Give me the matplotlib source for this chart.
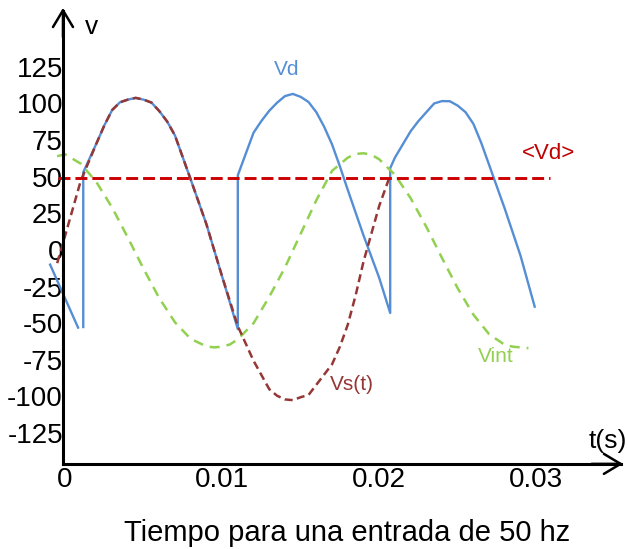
import matplotlib.pyplot as plt

plt.rcParams['font.family'] = ['Liberation Sans', 'DejaVu Sans']
plt.rcParams['axes.unicode_minus'] = False

# Vs(t): tension de entrada
t_vs = [-0.0005, 0.000, 0.001, 0.002, 0.0025, 0.003, 0.0035, 0.004, 0.0045, 0.005,
        0.0055, 0.006, 0.0065, 0.007, 0.008, 0.009, 0.010, 0.011, 0.012, 0.013,
        0.0135, 0.014, 0.0145, 0.015, 0.0155, 0.016, 0.017, 0.0175, 0.018, 0.0185,
        0.019, 0.020, 0.0207]
vs = [-9, 9.5, 47.2, 72.7, 85, 95.5, 100.8, 102.6, 103.8, 102.6,
      100.6, 94.8, 87.7, 78.1, 48.1, 17.6, -18.1, -52, -75.6, -95,
      -99.5, -102, -102.5, -100.5, -99, -92, -78, -66, -51, -31,
      -8, 30, 51]

# Vint
t_vint = [-0.0005, 0.000, 0.001, 0.002, 0.003, 0.004, 0.005, 0.006, 0.007, 0.008,
          0.009, 0.0095, 0.010, 0.0105, 0.011, 0.012, 0.013, 0.014, 0.015, 0.016,
          0.017, 0.018, 0.0185, 0.019, 0.0195, 0.020, 0.021, 0.022, 0.023, 0.024,
          0.025, 0.026, 0.027, 0.028, 0.0285, 0.029, 0.0295]
vint = [64, 65.3, 58.9, 46.3, 28.9, 8.4, -12.9, -32.9, -49.4, -60.7,
        -65.8, -66.5, -66, -64.5, -61, -50, -32, -12, 11, 34,
        54, 63, 65.5, 66, 65, 61.9, 51.3, 35.4, 15.8, -5.5,
        -26.2, -44.2, -57.5, -64.8, -66, -66.5, -67]

# Vd: primer tramo suelto
t_vd_a = [-0.00095, 0.00083]
vd_a = [-10, -53]

# Vd: resto de la curva (saltos verticales incluidos)
t_vd = [0.00116, 0.00116, 0.002, 0.0025, 0.003, 0.0035, 0.004, 0.0045, 0.005, 0.0055,
        0.006, 0.0065, 0.007, 0.008, 0.009, 0.010, 0.011,
        0.011, 0.012, 0.0125, 0.013, 0.0135, 0.014, 0.0145, 0.015, 0.0155, 0.016,
        0.0165, 0.017, 0.0175, 0.018, 0.019, 0.020, 0.0207,
        0.0207, 0.021, 0.022, 0.0225, 0.023, 0.0235, 0.024, 0.0245, 0.025, 0.0255,
        0.026, 0.0265, 0.027, 0.028, 0.029, 0.0299]
vd = [-52.6, 53, 72.7, 85, 95.5, 100.8, 102.6, 103.8, 102.6, 100.6,
      94.8, 87.7, 78.1, 48.1, 17.6, -18.1, -54,
      51, 80, 88, 95, 100.5, 105, 106.5, 104.5, 101, 94,
      84, 72, 57, 41, 10, -19, -43,
      55.8, 63, 81, 88, 94, 100, 101.6, 101.5, 98.5, 94,
      86, 73, 58, 28, -4, -38.7]

# <Vd>
t_avg = [-0.00045, 0.03087]
vd_avg = 49

y_ticks = [-125, -100, -75, -50, -25, 0, 25, 50, 75, 100, 125]
x_ticks = [0, 0.01, 0.02, 0.03]
x_labels = ['0', '0.01', '0.02', '0.03']

blue = '#558ED5'
dark_red = '#953735'
green = '#92D050'
red = '#CC0000'

fig = plt.figure(figsize=(6.28, 5.49), dpi=100)
ax = fig.add_axes([0, 0, 1, 1])
ax.set_xlim(-0.00414, 0.03584)
ax.set_ylim(-204.1, 170.6)

ax.plot(t_vd_a, vd_a, color=blue, lw=1.7)
ax.plot(t_vd, vd, color=blue, lw=1.7)
ax.plot(t_vint, vint, color=green, lw=1.8, dashes=(4, 2.8))
ax.plot(t_vs, vs, color=dark_red, lw=1.8, dashes=(3.2, 1.8))
ax.plot(t_avg, [vd_avg, vd_avg], color=red, lw=2.1, dashes=(4.1, 1.7))

# ejes con flechas
x0, y0 = -0.00013, -146
x_end, y_end = 0.03552, 165.2
for s in ['top', 'right']:
    ax.spines[s].set_visible(False)
ax.spines['left'].set_position(('data', x0))
ax.spines['bottom'].set_position(('data', y0))
ax.spines['left'].set_bounds(y0, y_end - 2)
ax.spines['bottom'].set_bounds(x0, x_end - 0.0001)
for s in ['left', 'bottom']:
    ax.spines[s].set_linewidth(2.2)

arrow = dict(arrowstyle='->, head_length=0.6, head_width=0.36', lw=1.8,
             color='black', shrinkA=0, shrinkB=0, mutation_scale=20)
ax.annotate('', xy=(x0, y_end), xytext=(x0, y_end - 20), arrowprops=arrow)
ax.annotate('', xy=(x_end, y0), xytext=(x_end - 0.002, y0), arrowprops=arrow)

ax.set_yticks(y_ticks)
ax.set_xticks(x_ticks)
ax.set_xticklabels(x_labels)
ax.tick_params(length=0, labelsize=20)
ax.tick_params(axis='y', pad=0)
ax.tick_params(axis='x', pad=2)

ax.text(0.00127, 152, 'v', fontsize=19, ha='left', va='center')
ax.text(0.03335, -130.4, 't(s)', fontsize=19, ha='left', va='center')

ax.text(0.01413, 123, 'Vd', color=blue, fontsize=15, ha='center', va='center')
ax.text(0.02909, 65.5, '<Vd>', color='#C00000', fontsize=16, ha='left', va='center')
ax.text(0.01687, -91.5, 'Vs(t)', color=dark_red, fontsize=15, ha='left', va='center')
ax.text(0.02629, -72.4, 'Vint', color=green, fontsize=15, ha='left', va='center')

fig.text(0.5525, 0.029, 'Tiempo para una entrada de 50 hz', fontsize=21,
         ha='center', va='center')

fig.savefig('out.png', dpi=100)
